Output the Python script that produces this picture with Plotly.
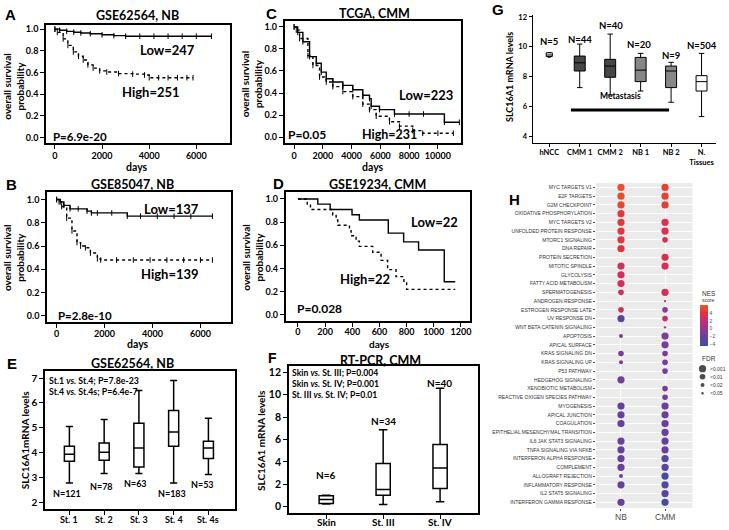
import plotly.graph_objects as go

W, H = 729, 530
FONT = "Lato, 'Liberation Sans', Arial, sans-serif"
ARIAL = "'Liberation Sans', Arial, sans-serif"

# ---------------- DATA ----------------
# Panel A  (GSE62564, NB) Kaplan-Meier
a_low_days = [0, 200, 500, 800, 1100, 1500, 2000, 2500, 3000, 3600, 4200, 4800, 5400, 6000, 6640]
a_low_surv = [1.0, 0.99, 0.98, 0.972, 0.965, 0.958, 0.948, 0.94, 0.935, 0.935, 0.935, 0.935, 0.935, 0.935, 0.935]
a_high_days = [0, 100, 350, 550, 780, 1000, 1200, 1400, 1620, 1900, 2200, 2700, 3300, 3800, 4000, 4400, 4800, 5200, 5600, 5860]
a_high_surv = [1.0, 0.97, 0.91, 0.85, 0.79, 0.75, 0.715, 0.67, 0.64, 0.615, 0.605, 0.59, 0.585, 0.577, 0.552, 0.552, 0.552, 0.552, 0.552, 0.552]

# Panel B  (GSE85047, NB)
b_low_days = [0, 150, 300, 560, 900, 1270, 1450, 1700, 2300, 2950, 3500, 4200, 4900, 5600, 6500]
b_low_surv = [1.0, 0.98, 0.95, 0.92, 0.92, 0.90, 0.885, 0.885, 0.885, 0.857, 0.857, 0.857, 0.857, 0.857, 0.857]
b_high_days = [0, 100, 210, 420, 640, 850, 1000, 1200, 1410, 1700, 1840, 2500, 3200, 3900, 4600, 5300, 6000, 6500]
b_high_surv = [1.0, 0.98, 0.94, 0.84, 0.73, 0.63, 0.60, 0.585, 0.54, 0.49, 0.48, 0.48, 0.48, 0.48, 0.48, 0.48, 0.48, 0.48]

# Panel C  (TCGA, CMM)
c_low_days = [0, 250, 611, 1076, 1542, 1889, 2236, 2694, 3389, 4083, 4778, 5243, 5361, 5937, 6979, 8000, 9000, 10451, 11493]
c_low_surv = [1.0, 0.95, 0.865, 0.73, 0.67, 0.59, 0.53, 0.50, 0.47, 0.43, 0.38, 0.35, 0.28, 0.25, 0.21, 0.21, 0.21, 0.135, 0.135]
c_high_days = [0, 150, 382, 960, 1308, 1771, 2236, 2694, 3389, 4083, 4778, 5243, 5708, 6632, 7326, 8250, 8944, 10000, 11076]
c_high_surv = [1.0, 0.97, 0.894, 0.74, 0.65, 0.545, 0.50, 0.458, 0.413, 0.368, 0.30, 0.25, 0.19, 0.14, 0.10, 0.06, 0.036, 0.036, 0.036]
c_day_ticks = [0, 2000, 4000, 6000, 8000, 10000]

# Panel D  (GSE19234, CMM)
d_low_days = [0, 146, 237, 398, 452, 665, 778, 888, 1077, 1158]
d_low_surv = [1.0, 0.955, 0.909, 0.864, 0.818, 0.705, 0.63, 0.56, 0.286, 0.286]
d_high_days = [0, 68, 92, 256, 281, 293, 379, 391, 428, 452, 550, 612, 660, 722, 780, 800, 1158]
d_high_surv = [1.0, 0.955, 0.909, 0.864, 0.818, 0.773, 0.727, 0.682, 0.636, 0.591, 0.54, 0.47, 0.39, 0.33, 0.29, 0.22, 0.22]

# Panel E  (GSE62564 stages, SLC16A1 mRNA)
e_stages = ["St. 1", "St. 2", "St. 3", "St. 4", "St. 4s"]
e_low = [2.79, 3.17, 3.17, 2.79, 3.13]
e_q1 = [3.66, 3.70, 3.43, 4.26, 3.77]
e_med = [3.94, 4.02, 4.19, 4.83, 4.19]
e_q3 = [4.26, 4.39, 5.19, 5.70, 4.46]
e_high = [5.06, 5.34, 6.50, 6.90, 5.39]
e_n = [121, 78, 63, 183, 53]

# Panel F  (RT-PCR, CMM)
f_groups = ["Skin", "St. III", "St. IV"]
f_low = [0.25, 0.21, 0.45]
f_q1 = [0.30, 1.04, 1.63]
f_med = [0.65, 1.55, 3.47]
f_q3 = [0.98, 3.86, 5.57]
f_high = [1.02, 6.88, 10.58]
f_n = [6, 34, 40]

# Panel G
g_groups = ["hNCC", "CMM 1", "CMM 2", "NB 1", "NB 2", "N.<br>Tissues"]
g_low = [9.30, 7.27, 6.78, 7.04, 6.29, 5.33]
g_q1 = [9.35, 8.38, 7.96, 7.67, 7.27, 7.04]
g_med = [9.45, 8.93, 8.71, 8.44, 8.38, 7.67]
g_q3 = [9.60, 9.38, 9.16, 9.29, 8.71, 8.07]
g_high = [9.62, 10.18, 10.85, 9.56, 8.96, 9.56]
g_n = [5, 44, 40, 20, 9, 504]

# Panel H  (GSEA hallmarks)
hallmarks = ["MYC TARGETS V1", "E2F TARGETS", "G2M CHECKPOINT", "OXIDATIVE PHOSPHORYLATION",
             "MYC TARGETS V2", "UNFOLDED PROTEIN RESPONSE", "MTORC1 SIGNALING", "DNA REPAIR",
             "PROTEIN SECRETION", "MITOTIC SPINDLE", "GLYCOLYSIS", "FATTY ACID METABOLISM",
             "SPERMATOGENESIS", "ANDROGEN RESPONSE", "ESTROGEN RESPONSE LATE", "UV RESPONSE DN",
             "WNT BETA CATENIN SIGNALING", "APOPTOSIS", "APICAL SURFACE", "KRAS SIGNALING DN",
             "KRAS SIGNALING UP", "P53 PATHWAY", "HEDGEHOG SIGNALING", "XENOBIOTIC METABOLISM",
             "REACTIVE OXIGEN SPECIES PATHWAY", "MYOGENESIS", "APICAL JUNCTION", "COAGULATION",
             "EPITHELIAL MESENCHYMAL TRANSITION", "IL6 JAK STAT3 SIGNALING", "TNFA SIGNALING VIA NFKB",
             "INTERFERON ALPHA RESPONSE", "COMPLEMENT", "ALLOGRAFT REJECTION", "INFLAMMATORY RESPONSE",
             "IL2 STAT5 SIGNALING", "INTERFERON GAMMA RESPONSE"]
h_columns = ["NB", "CMM"]
nb_nes = [5.8, 5.6, 5.3, 4.4, 4.3, 4.2, 4.2, 4.0, None, 3.0, 3.0, 3.0, 2.6, None, 2.8, -2.6, None, -0.8, None,
          -1.2, -0.8, None, -1.3, None, None, -2.0, -2.0, -2.0, None, -1.9, -2.4, -2.1, -2.1, -0.9, -2.0, None, -2.1]
nb_fdr = [0.001, 0.001, 0.001, 0.001, 0.001, 0.001, 0.001, 0.001, None, 0.001, 0.001, 0.001, 0.01, None, 0.01,
          0.001, None, 0.02, None, 0.01, 0.02, None, 0.001, None, None, 0.001, 0.001, 0.001, None, 0.001, 0.001,
          0.001, 0.001, 0.02, 0.001, None, 0.001]
cmm_nes = [5.0, 4.9, 4.8, None, 3.6, 3.5, 3.4, None, 3.4, 3.3, None, None, 3.0, 2.5, 0.0, 2.4, 0.5, -1.0, -1.2,
           -1.2, -1.3, -1.4, None, -1.5, -1.5, -1.8, -1.8, -1.8, -2.2, -2.4, -2.0, -3.0, -2.9, -4.0, -3.1, -2.8, -4.0]
cmm_fdr = [0.001, 0.001, 0.001, None, 0.001, 0.001, 0.01, None, 0.001, 0.001, None, None, 0.001, 0.05, 0.01,
           0.01, 0.05, 0.001, 0.001, 0.01, 0.01, 0.01, None, 0.01, 0.01, 0.001, 0.001, 0.001, 0.001, 0.001, 0.001,
           0.001, 0.001, 0.001, 0.001, 0.001, 0.001]
fdr_levels = [0.001, 0.01, 0.02, 0.05]
fdr_labels = ["<0.001", "<0.01", "<0.02", "<0.05"]

# ---------------- STYLE ----------------
FDR_SIZE = {0.001: 7.2, 0.01: 5.6, 0.02: 4.0, 0.05: 2.4}
NES_SCALE = [[0.0, "#3C4FA2"], [0.228, "#67409B"], [0.415, "#8E3A95"], [0.601, "#C62A7E"],
             [0.788, "#E0333F"], [1.0, "#E9562A"]]
G_FILL = ["white", "#464646", "#464646", "#878787", "#878787", "white"]
G_WIDTH = [0.2, 0.36, 0.36, 0.36, 0.36, 0.36]


def dx(l, r):
    return [l / W, r / W]


def dy(top, bottom):
    return [1 - bottom / H, 1 - top / H]


fig = go.Figure()


def km(days, surv, n, dash, marks=True):
    fig.add_trace(go.Scatter(
        x=days, y=surv, mode="lines+markers" if marks else "lines",
        line=dict(color="black", width=1.4, dash=dash, shape="hv"),
        marker=dict(symbol="line-ns-open", size=4, color="black", line=dict(width=1, color="black")),
        xaxis=f"x{n}", yaxis=f"y{n}", showlegend=False, hoverinfo="skip"))


km(a_low_days, a_low_surv, 1, "solid")
km(a_high_days, a_high_surv, 1, "dot")
km(b_low_days, b_low_surv, 2, "solid")
km(b_high_days, b_high_surv, 2, "dot")
km(c_low_days, c_low_surv, 3, "solid")
km(c_high_days, c_high_surv, 3, "dot")
km(d_low_days, d_low_surv, 4, "solid", marks=False)
km(d_high_days, d_high_surv, 4, "dot", marks=False)

e_pos = list(range(1, len(e_stages) + 1))
f_pos = list(range(1, len(f_groups) + 1))

# Panel E boxes
fig.add_trace(go.Box(
    x=e_pos, q1=e_q1, median=e_med, q3=e_q3,
    lowerfence=e_low, upperfence=e_high, boxpoints=False, width=0.29, whiskerwidth=0.7,
    fillcolor="white", line=dict(color="black", width=1.5), xaxis="x5", yaxis="y5",
    showlegend=False, hoverinfo="skip"))

# Panel F boxes
fig.add_trace(go.Box(
    x=f_pos, q1=f_q1, median=f_med, q3=f_q3,
    lowerfence=f_low, upperfence=f_high, boxpoints=False, width=0.25, whiskerwidth=0.6,
    fillcolor="white", line=dict(color="black", width=1.5), xaxis="x6", yaxis="y6",
    showlegend=False, hoverinfo="skip"))

# Panel G boxes
for i in range(len(g_groups)):
    fig.add_trace(go.Box(
        x=[i + 1], q1=[g_q1[i]], median=[g_med[i]], q3=[g_q3[i]],
        lowerfence=[g_low[i]], upperfence=[g_high[i]], boxpoints=False, width=G_WIDTH[i],
        whiskerwidth=0.5, fillcolor=G_FILL[i], line=dict(color="black", width=1),
        xaxis="x7", yaxis="y7", showlegend=False, hoverinfo="skip"))

# Panel H dots
hx, hy, hc, hs = [], [], [], []
for col, nes_list, fdr_list in ((h_columns[0], nb_nes, nb_fdr), (h_columns[1], cmm_nes, cmm_fdr)):
    for name, nes, fdr in zip(hallmarks, nes_list, fdr_list):
        if nes is not None:
            hx.append(col)
            hy.append(name)
            hc.append(nes)
            hs.append(FDR_SIZE[fdr])
fig.add_trace(go.Scatter(
    x=hx, y=hy, mode="markers",
    marker=dict(color=hc, size=hs, colorscale=NES_SCALE, cmin=-4.44, cmax=6.27, line=dict(width=0),
                opacity=1,
                colorbar=dict(x=701 / W, xanchor="left", y=1 - 345 / H, yanchor="bottom",
                              len=41, lenmode="pixels", thickness=8, thicknessmode="pixels",
                              outlinewidth=0, tickvals=[-4, -2, 0, 2, 4], ticks="",
                              tickfont=dict(size=5, color="#4D4D4D", family=ARIAL), xpad=0, ypad=0)),
    xaxis="x8", yaxis="y8", showlegend=False, hoverinfo="skip"))

# FDR legend
fig.add_trace(go.Scatter(
    x=[5.5] * len(fdr_levels), y=list(range(len(fdr_levels))), mode="markers",
    marker=dict(color="black", size=[FDR_SIZE[f] for f in fdr_levels], line=dict(width=0)),
    xaxis="x9", yaxis="y9", showlegend=False, hoverinfo="skip"))

# ---------------- AXES ----------------
tickf = dict(family=FONT, size=9, color="black", weight="bold")
base = dict(showline=True, linecolor="black", linewidth=1.5, mirror=True, ticks="outside", ticklen=4,
            tickwidth=1.3, tickcolor="black", showgrid=False, zeroline=False, tickfont=tickf)
surv_ticks = dict(tickvals=[0, 0.2, 0.4, 0.6, 0.8, 1.0], tickformat=".1f")
xkm = dict(ticklabelstandoff=-1)

lay = {}
lay["xaxis"] = dict(base, **xkm, domain=dx(46, 230), range=[-381, 7415], tickvals=[0, 2000, 4000, 6000], anchor="y")
lay["yaxis"] = dict(base, domain=dy(22.7, 141.7), range=[-0.052, 1.042], anchor="x", **surv_ticks)
lay["xaxis2"] = dict(base, **xkm, domain=dx(47, 231.5), range=[-404, 7283], tickvals=[0, 2000, 4000, 6000],
                     anchor="y2")
lay["yaxis2"] = dict(base, domain=dy(190.7, 321), range=[-0.051, 1.065], anchor="x2", **surv_ticks)
lay["xaxis3"] = dict(base, **xkm, domain=dx(285, 462), range=[-660, 11632],
                     tickvals=c_day_ticks, ticktext=[str(v) for v in c_day_ticks], anchor="y3")
lay["yaxis3"] = dict(base, domain=dy(19.3, 141.7), range=[-0.054, 1.051], anchor="x3", **surv_ticks)
lay["xaxis4"] = dict(base, domain=dx(286, 470.7), range=[-91, 1267], ticklabelstandoff=-2,
                     tickvals=[0, 200, 400, 600, 800, 1000, 1200], anchor="y4")
lay["yaxis4"] = dict(base, domain=dy(190.7, 320), range=[-0.051, 1.06], anchor="x4", **surv_ticks)
lay["xaxis5"] = dict(base, domain=dx(45, 235), range=[0.296, 5.756], tickvals=e_pos, showticklabels=False,
                     anchor="y5")
lay["yaxis5"] = dict(base, domain=dy(370, 509.3), range=[1.728, 7.3], tickvals=[2, 3, 4, 5, 6, 7], anchor="x5",
                     tickfont=dict(tickf, size=10))
lay["xaxis6"] = dict(base, domain=dx(289.3, 478.3), range=[0.344, 3.66], tickvals=f_pos, showticklabels=False,
                     anchor="y6")
lay["yaxis6"] = dict(base, domain=dy(365, 512.7), range=[-0.533, 12.6], tickvals=[0, 2, 4, 6, 8, 10, 12],
                     anchor="x6", tickfont=dict(tickf, size=10.5))
gbase = dict(base, mirror=False, linewidth=1, ticklen=3, tickwidth=1, tickfont=dict(tickf, size=7.5))
lay["xaxis7"] = dict(gbase, domain=dx(533.3, 717), range=[0.452, 6.475], tickvals=[1, 2, 3, 4, 5, 6],
                     ticktext=g_groups, anchor="y7", ticklabelstandoff=-1)
lay["yaxis7"] = dict(gbase, domain=dy(13, 141.7), range=[3.553, 12.13], tickvals=[4, 6, 8, 10, 12], anchor="x7")
lay["xaxis8"] = dict(domain=dx(596.7, 693.3), type="category", categoryorder="array", categoryarray=h_columns,
                     range=[-0.57, 1.62], showgrid=True, gridcolor="white", gridwidth=1, zeroline=False,
                     showline=False, ticks="outside", ticklen=2, tickwidth=0.6, tickcolor="#4D4D4D",
                     showticklabels=False, anchor="y8")
lay["yaxis8"] = dict(domain=dy(181.7, 507.9), type="category", categoryorder="array", categoryarray=hallmarks,
                     range=[36.65, -0.5], showgrid=True, gridcolor="white", gridwidth=1, zeroline=False,
                     showline=False, ticks="outside", ticklen=2, tickwidth=0.6, tickcolor="#4D4D4D",
                     tickfont=dict(family=ARIAL, size=5, color="#333333"), anchor="x8")
lay["xaxis9"] = dict(domain=dx(698, 729), range=[0, 31], visible=False, anchor="y9")
lay["yaxis9"] = dict(domain=dy(363.9, 396.8), range=[3.5, -0.5], visible=False, anchor="x9")

fig.update_layout(width=W, height=H, margin=dict(l=0, r=0, t=0, b=0), paper_bgcolor="white",
                  plot_bgcolor="white", showlegend=False, font=dict(family=FONT, color="black"), **lay)
fig.add_shape(type="rect", xref="x8 domain", yref="y8 domain", x0=0, x1=1, y0=0, y1=1,
              fillcolor="#EBEBEB", line=dict(width=0), layer="below")


# ---------------- TEXT ----------------
def ann(text, x, y, size, bold=True, xanchor="center", angle=0, family=FONT, color="black", xref="paper"):
    fig.add_annotation(text=f"<b>{text}</b>" if bold else text, x=x / W if xref == "paper" else x,
                       y=1 - y / H, xref=xref, yref="paper", showarrow=False,
                       font=dict(size=size, family=family, color=color),
                       xanchor=xanchor, yanchor="middle", textangle=angle, borderpad=0)


# category tick labels placed on the data axes
for v, lab in zip(e_pos, e_stages):
    ann(lab, v, 519.5, 9, xref="x5")
for v, lab in zip(f_pos, f_groups):
    ann(lab, v, 522, 10, xref="x6")
for lab in h_columns:
    ann(lab, lab, 516.5, 8.5, bold=False, family=ARIAL, color="#4D4D4D", xref="x8")

for letter, lx, ly, fs in (("A", 11, 13, 15), ("B", 12, 183, 15), ("C", 272, 12, 15), ("D", 279, 182, 15),
                           ("E", 12.5, 363, 15), ("F", 273, 357.5, 14), ("G", 499, 8, 15), ("H", 515, 198, 15)):
    ann(letter, lx, ly, fs, family=ARIAL)

for t, tx, ty in (("GSE62564, NB", 138, 14), ("GSE85047, NB", 133, 183), ("TCGA, CMM", 375, 12),
                  ("GSE19234, CMM", 378, 183), ("GSE62564, NB", 133, 363), ("RT-PCR, CMM", 381, 360)):
    ann(t, tx, ty, 12.5)

for tx, ty, fs in ((137, 165.5, 10.5), (138, 343, 10.5), (374, 165.5, 10.5), (380, 343.5, 10)):
    ann("days", tx, ty, fs)
for tx, ty in ((14, 84), (13, 256), (252, 82), (252, 256)):
    ann("overall survival<br>probability", tx, ty, 10, angle=-90)

ann("Low=247", 168, 48, 13)
ann("High=251", 151.5, 90, 13)
ann("P=6.9e-20", 80.5, 135, 11.5)
ann("Low=137", 172, 208, 13)
ann("High=139", 170.5, 273, 13)
ann("P=2.8e-10", 85, 315, 11.5)
ann("Low=223", 427, 93, 13)
ann("High=231", 390, 133, 12.5)
ann("P=0.05", 307.5, 133, 12)
ann("Low=22", 435, 221, 13)
ann("High=22", 366, 278, 13)
ann("P=0.028", 320, 308, 12)

ann("St.1 <i>vs.</i> St.4; P=7.8e-23", 48, 380, 8.8, xanchor="left")
ann("St.4 <i>vs.</i> St.4s; P=6.4e-7", 48, 390.7, 8.8, xanchor="left")
for n, (tx, ty) in zip(e_n, ((67.5, 493), (102, 486), (136, 483), (172, 493), (203, 484))):
    ann(f"N={n}", tx, ty, 9)
ann("SLC16A1mRNA levels", 25, 440, 10, angle=-90)

ann("Skin <i>vs.</i> St. III; P=0.004", 291, 372, 8.6, xanchor="left")
ann("Skin <i>vs.</i> St. IV; P=0.001", 291, 383.3, 8.6, xanchor="left")
ann("St. III <i>vs.</i> St. IV; P=0.01", 291, 394.3, 8.6, xanchor="left")
for n, (tx, ty) in zip(f_n, ((326, 475), (384, 421), (440, 382.3))):
    ann(f"N={n}", tx, ty, 10)
ann("SLC16A1 mRNA levels", 262, 440, 10, angle=-90)

for n, (tx, ty) in zip(g_n, ((550, 40), (581, 37.3), (611.5, 23.3), (640, 42.3), (672, 53.3), (703, 43.3))):
    ann(f"N={n}", tx, ty, 9.5)
ann("Metastasis", 621, 94, 8.5)
fig.add_shape(type="line", xref="paper", yref="paper", x0=571.7 / W, x1=670 / W, y0=1 - 108.3 / H,
              y1=1 - 108.3 / H, line=dict(color="black", width=3))
ann("SLC16A1 mRNA levels", 510, 75, 9, angle=-90)

ann("NES", 702, 293, 6.5, bold=False, xanchor="left", family=ARIAL, color="#333333")
ann("score", 702, 299.5, 5, bold=False, xanchor="left", family=ARIAL, color="#333333")
ann("FDR", 702, 358, 6.5, bold=False, xanchor="left", family=ARIAL, color="#333333")
for lab, ty in zip(fdr_labels, (368, 376.2, 384.4, 392.6)):
    ann(lab.replace("<", "&lt;"), 710, ty, 5, bold=False, xanchor="left", family=ARIAL, color="#333333")

# the page body has a default 8px margin; remove it so the 729x530 figure fills the window exactly
fig.write_html("out.html", config={"displayModeBar": False},
               post_script="document.body.style.margin='0';document.body.style.overflow='hidden';")
